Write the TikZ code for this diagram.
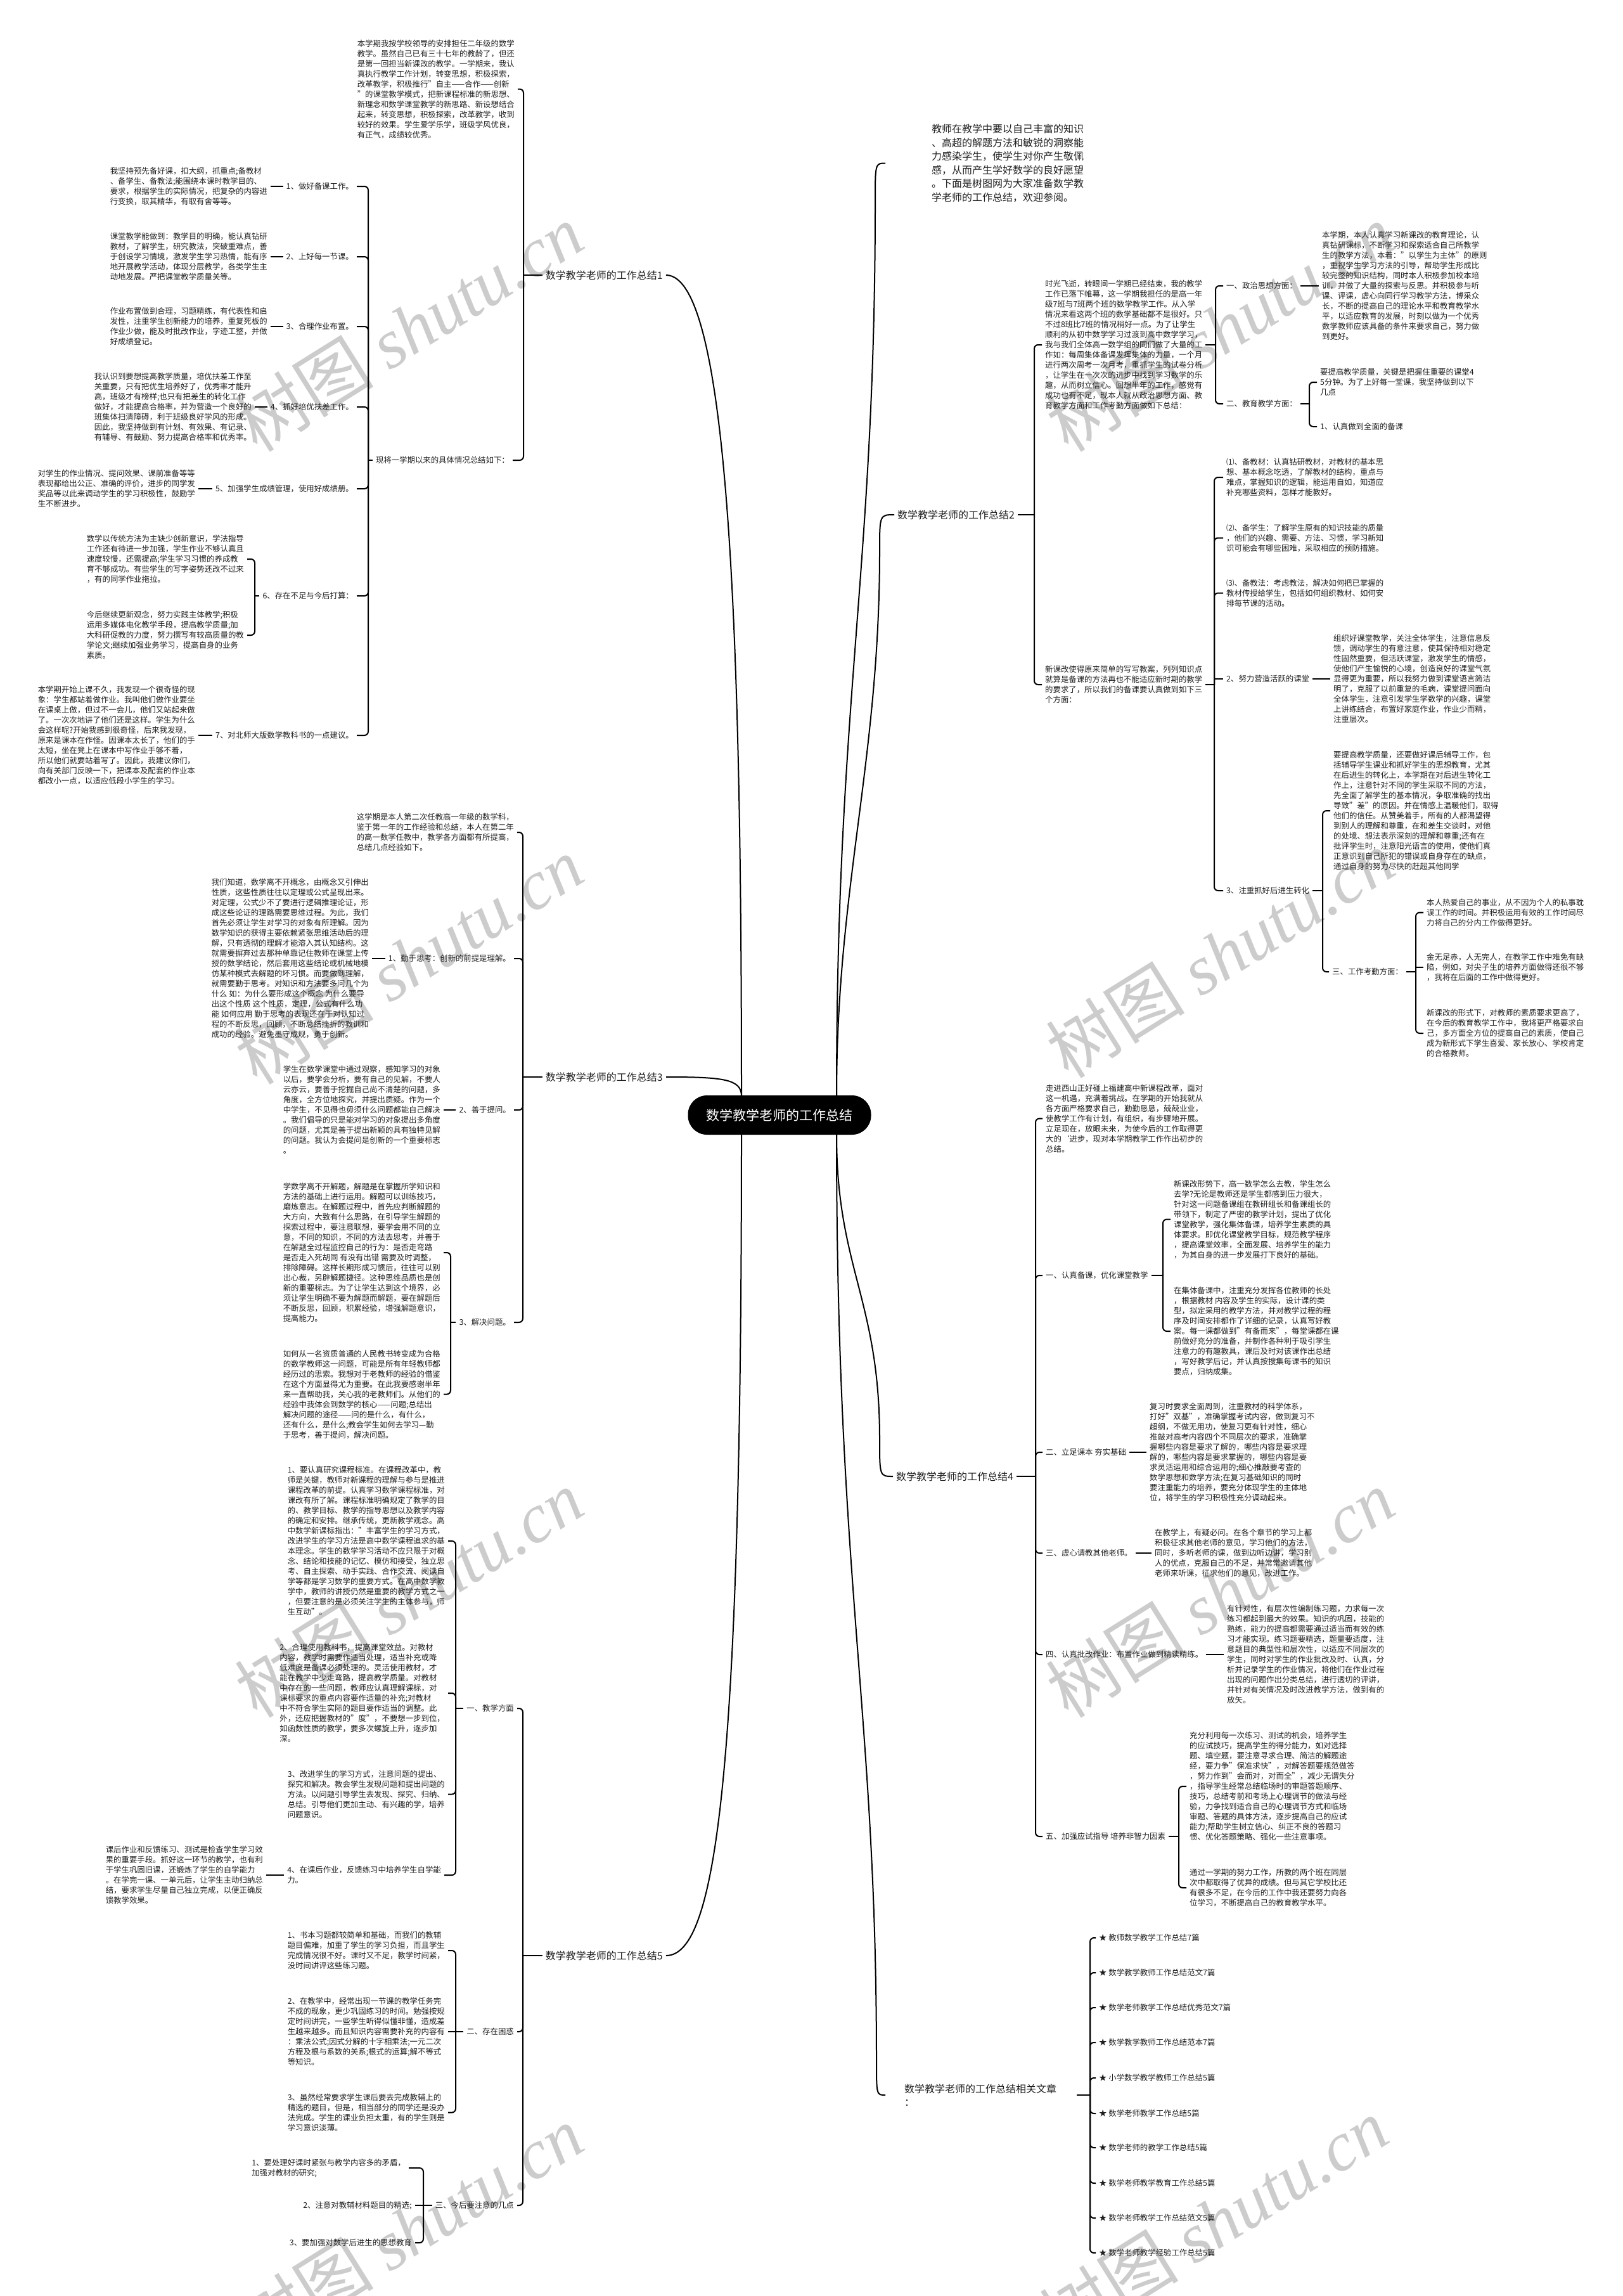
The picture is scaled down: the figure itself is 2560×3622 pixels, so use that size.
\documentclass[tikz,border=0pt]{standalone}
\usepackage{fontspec}
\setmainfont{Noto Sans CJK SC}
\newfontfamily\wmlat{Liberation Serif}
\begin{document}
\begin{tikzpicture}[x=1pt,y=-1pt,
  nb/.style={inner sep=5pt, text=black!88},
  txt/.style={nb, align=left, font=\fontsize{12.4}{16}\selectfont},
  lvl/.style={nb, align=left, font=\fontsize{16}{21.5}\selectfont},
  rootbox/.style={fill=black, text=white, rounded corners=30pt, minimum width=289pt, minimum height=62pt, inner sep=0pt, font=\fontsize{21}{25}\selectfont},
  conn/.style={draw=black, line width=2pt, rounded corners=6pt},
  curv/.style={draw=black, line width=2pt},
  wm/.style={text=black!20, rotate=32, inner sep=0pt, font=\fontsize{110}{110}\selectfont}
]
\fill[white] (0,0) rectangle (2560,3622);
\useasboundingbox (0,0) rectangle (2560,3622);

% watermarks
\node[wm] (w1) at (645,517) {树图 {\wmlat\itshape shutu.cn}};
\node[wm] (w2) at (645,1515) {树图 {\wmlat\itshape shutu.cn}};
\node[wm] (w3) at (645,2514) {树图 {\wmlat\itshape shutu.cn}};
\node[wm] (w4) at (645,3517) {树图 {\wmlat\itshape shutu.cn}};
\node[wm] (w5) at (1925,517) {树图 {\wmlat\itshape shutu.cn}};
\node[wm] (w6) at (1925,1505) {树图 {\wmlat\itshape shutu.cn}};
\node[wm] (w7) at (1925,2514) {树图 {\wmlat\itshape shutu.cn}};
\node[wm] (w8) at (1915,3505) {树图 {\wmlat\itshape shutu.cn}};

% spine coordinates
\coordinate (sp1) at (826,0);
\coordinate (sp1b) at (581,0);
\coordinate (sp16) at (402,0);
\coordinate (sp3) at (825,0);
\coordinate (sp3d) at (711,0);
\coordinate (sp5) at (825,0);
\coordinate (sp5a) at (719,0);
\coordinate (sp5c) at (668,0);
\coordinate (sp2) at (1632,0);
\coordinate (sp2a) at (1918,0);
\coordinate (sp2a2) at (2066,0);
\coordinate (sp2b) at (1916,0);
\coordinate (sp2b5) at (2087,0);
\coordinate (sp2c) at (2234,0);
\coordinate (sp4) at (1634,0);
\coordinate (sp4b) at (1835,0);
\coordinate (sp4f) at (1860,0);
\coordinate (sprel) at (1720,0);

% root
\node[rootbox] (root) at (1230,1759) {数学教学老师的工作总结};
\coordinate (rtl) at (1170,1729);
\coordinate (rbl) at (1170,1790);
\coordinate (rtr) at (1320,1729);
\coordinate (rbr) at (1320,1790);

% ================= Section 1 =================
\node[lvl, anchor=east] (s1) at (1051,434) {数学教学老师的工作总结1};
\node[txt, anchor=east] (s1a) at (817,140.5) {本学期我按学校领导的安排担任二年级的数学\\
教学。虽然自己已有三十七年的教龄了，但还\\
是第一回担当新课改的教学。一学期来，我认\\
真执行教学工作计划，转变思想，积极探索，\\
改革教学，积极推行"自主——合作——创新\\
"的课堂教学模式，把新课程标准的新思想、\\
新理念和数学课堂教学的新思路、新设想结合\\
起来，转变思想，积极探索，改革教学，收到\\
较好的效果。学生爱学乐学，班级学风优良，\\
有正气，成绩较优秀。};
\node[txt, anchor=east] (s1b) at (809,726) {现将一学期以来的具体情况总结如下：};
\node[txt, anchor=east] (i1) at (563,294) {1、做好备课工作。};
\node[txt, anchor=east] (i2) at (563,405) {2、上好每一节课。};
\node[txt, anchor=east] (i3) at (563,515) {3、合理作业布置。};
\node[txt, anchor=east] (i4) at (563,642) {4、抓好培优扶差工作。};
\node[txt, anchor=east] (i5) at (563,771) {5、加强学生成绩管理，使用好成绩册。};
\node[txt, anchor=east] (i6) at (563,940) {6、存在不足与今后打算：};
\node[txt, anchor=east] (i7) at (563,1160) {7、对北师大版数学教科书的一点建议。};
\node[txt, anchor=east] (i1p) at (427,294) {我坚持预先备好课，扣大纲，抓重点;备教材\\
、备学生、备教法;能围绕本课时教学目的、\\
要求，根据学生的实际情况，把复杂的内容进\\
行变换，取其精华，有取有舍等等。};
\node[txt, anchor=east] (i2p) at (427,405) {课堂教学能做到：教学目的明确，能认真钻研\\
教材，了解学生，研究教法，突破重难点，善\\
于创设学习情境，激发学生学习热情，能有序\\
地开展教学活动，体现分层教学，各类学生主\\
动地发展。严把课堂教学质量关等。};
\node[txt, anchor=east] (i3p) at (427,515) {作业布置做到合理，习题精练，有代表性和启\\
发性，注重学生创新能力的培养，重复死板的\\
作业少做，能及时批改作业，字迹工整，并做\\
好成绩登记。};
\node[txt, anchor=east] (i4p) at (402,642) {我认识到要想提高教学质量，培优扶差工作至\\
关重要，只有把优生培养好了，优秀率才能升\\
高，班级才有榜样;也只有把差生的转化工作\\
做好，才能提高合格率，并为营造一个良好的\\
班集体扫清障碍，利于班级良好学风的形成。\\
因此，我坚持做到有计划、有效果、有记录、\\
有辅导、有鼓励、努力提高合格率和优秀率。};
\node[txt, anchor=east] (i5p) at (313,771) {对学生的作业情况、提问效果、课前准备等等\\
表现都给出公正、准确的评价，进步的同学发\\
奖品等以此来调动学生的学习积极性，鼓励学\\
生不断进步。};
\node[txt, anchor=east] (i6a) at (390,882) {数学以传统方法为主缺少创新意识，学法指导\\
工作还有待进一步加强，学生作业不够认真且\\
速度较慢，还需提高;学生学习习惯的养成教\\
育不够成功。有些学生的写字姿势还改不过来\\
，有的同学作业拖拉。};
\node[txt, anchor=east] (i6b) at (390,1002) {今后继续更新观念，努力实践主体教学;积极\\
运用多媒体电化教学手段，提高教学质量;加\\
大科研促教的力度，努力撰写有较高质量的教\\
学论文;继续加强业务学习，提高自身的业务\\
素质。};
\node[txt, anchor=east] (i7p) at (313,1160) {本学期开始上课不久，我发现一个很奇怪的现\\
象：学生都站着做作业。我叫他们做作业要坐\\
在课桌上做，但过不一会儿，他们又站起来做\\
了。一次次地讲了他们还是这样。学生为什么\\
会这样呢?开始我感到很奇怪，后来我发现，\\
原来是课本在作怪。因课本太长了，他们的手\\
太短，坐在凳上在课本中写作业手够不着，\\
所以他们就要站着写了。因此，我建议你们，\\
向有关部门反映一下，把课本及配套的作业本\\
都改小一点，以适应低段小学生的学习。};

% ================= Section 3 =================
\node[lvl, anchor=east] (s3) at (1051,1699) {数学教学老师的工作总结3};
\node[txt, anchor=east] (s3a) at (816,1313) {这学期是本人第二次任教高一年级的数学科，\\
鉴于第一年的工作经验和总结，本人在第二年\\
的高一数学任教中，教学各方面都有所提高，\\
总结几点经验如下。};
\node[txt, anchor=east] (s3b) at (811,1512) {1、勤于思考：创新的前提是理解。};
\node[txt, anchor=east] (s3c) at (811,1751) {2、善于提问。};
\node[txt, anchor=east] (s3d) at (811,2086) {3、解决问题。};
\node[txt, anchor=east] (s3bp) at (587,1512) {我们知道，数学离不开概念，由概念又引伸出\\
性质，这些性质往往以定理或公式呈现出来。\\
对定理，公式少不了要进行逻辑推理论证，形\\
成这些论证的理路需要思维过程。为此，我们\\
首先必须让学生对学习的对象有所理解。因为\\
数学知识的获得主要依赖紧张思维活动后的理\\
解，只有透彻的理解才能溶入其认知结构。这\\
就需要摒弃过去那种单靠记住教师在课堂上传\\
授的数学结论，然后套用这些结论或机械地模\\
仿某种模式去解题的坏习惯。而要做到理解，\\
就需要勤于思考。对知识和方法要多问几个为\\
什么 如：为什么要形成这个概念 为什么要导\\
出这个性质 这个性质，定理，公式有什么功\\
能 如何应用 勤于思考的表现还在于对认知过\\
程的不断反思，回顾，不断总结挫折的教训和\\
成功的经验。避免墨守成规，勇于创新。};
\node[txt, anchor=east] (s3cp) at (700,1751) {学生在数学课堂中通过观察，感知学习的对象\\
以后，要学会分析，要有自己的见解，不要人\\
云亦云，要善于挖掘自己尚不清楚的问题，多\\
角度，全方位地探究，并提出质疑。作为一个\\
中学生，不见得也毋须什么问题都能自己解决\\
。我们倡导的只是能对学习的对象提出多角度\\
的问题，尤其是善于提出新颖的具有独特见解\\
的问题。我认为会提问是创新的一个重要标志\\
。};
\node[txt, anchor=east] (s3d1) at (700,1976) {学数学离不开解题，解题是在掌握所学知识和\\
方法的基础上进行运用。解题可以训练技巧，\\
磨炼意志。在解题过程中，首先应判断解题的\\
大方向，大致有什么思路，在引导学生解题的\\
探索过程中，要注意联想，要学会用不同的立\\
意，不同的知识，不同的方法去思考，并善于\\
在解题全过程监控自己的行为：是否走弯路\\
是否走入死胡同 有没有出错 需要及时调整，\\
排除障碍。这样长期形成习惯后，往往可以别\\
出心裁，另辟解题捷径。这种思维品质也是创\\
新的重要标志。为了让学生达到这个境界，必\\
须让学生明确不要为解题而解题，要在解题后\\
不断反思，回顾，积累经验，增强解题意识，\\
提高能力。};
\node[txt, anchor=east] (s3d2) at (700,2199.5) {如何从一名资质普通的人民教书转变成为合格\\
的数学教师这一问题，可能是所有年轻教师都\\
经历过的思索。我想对于老教师的经验的借鉴\\
在这个方面显得尤为重要。在此我要感谢半年\\
来一直帮助我，关心我的老教师们。从他们的\\
经验中我体会到数学的核心——问题;总结出\\
解决问题的途径——问的是什么，有什么，\\
还有什么，是什么;教会学生如何去学习—勤\\
于思考，善于提问，解决问题。};

% ================= Section 5 =================
\node[lvl, anchor=east] (s5) at (1051,3085) {数学教学老师的工作总结5};
\node[txt, anchor=east] (s5a) at (816,2695) {一、教学方面};
\node[txt, anchor=east] (s5b) at (816,3205) {二、存在困惑};
\node[txt, anchor=east] (s5c) at (816,3479) {三、今后要注意的几点};
\node[txt, anchor=east] (s5a1) at (707,2431) {1、要认真研究课程标准。在课程改革中，教\\
师是关键，教师对新课程的理解与参与是推进\\
课程改革的前提。认真学习数学课程标准，对\\
课改有所了解。课程标准明确规定了教学的目\\
的、教学目标、教学的指导思想以及教学内容\\
的确定和安排。继承传统，更新教学观念。高\\
中数学新课标指出："丰富学生的学习方式，\\
改进学生的学习方法是高中数学课程追求的基\\
本理念。学生的数学学习活动不应只限于对概\\
念、结论和技能的记忆、模仿和接受，独立思\\
考、自主探索、动手实践、合作交流、阅读自\\
学等都是学习数学的重要方式。在高中数学教\\
学中，教师的讲授仍然是重要的教学方式之一\\
，但要注意的是必须关注学生的主体参与，师\\
生互动"。};
\node[txt, anchor=east] (s5a2) at (707,2671) {2、合理使用教科书，提高课堂效益。对教材\\
内容，教学时需要作适当处理，适当补充或降\\
低难度是备课必须处理的。灵活使用教材，才\\
能在教学中少走弯路，提高教学质量。对教材\\
中存在的一些问题，教师应认真理解课标，对\\
课标要求的重点内容要作适量的补充;对教材\\
中不符合学生实际的题目要作适当的调整。此\\
外，还应把握教材的"度"，不要想一步到位，\\
如函数性质的教学，要多次螺旋上升，逐步加\\
深。};
\node[txt, anchor=east] (s5a3) at (707,2830.5) {3、改进学生的学习方式，注意问题的提出、\\
探究和解决。教会学生发现问题和提出问题的\\
方法。以问题引导学生去发现、探究、归纳、\\
总结。引导他们更加主动、有兴趣的学，培养\\
问题意识。};
\node[txt, anchor=east] (s5a4) at (701,2958) {4、在课后作业，反馈练习中培养学生自学能\\
力。};
\node[txt, anchor=east] (s5a4p) at (420,2958) {课后作业和反馈练习、测试是检查学生学习效\\
果的重要手段。抓好这一环节的教学，也有利\\
于学生巩固旧课，还锻炼了学生的自学能力\\
。在学完一课、一单元后，让学生主动归纳总\\
结，要求学生尽量自己独立完成，以便正确反\\
馈教学效果。};
\node[txt, anchor=east] (s5b1) at (707,3077) {1、书本习题都较简单和基础，而我们的教辅\\
题目偏难，加重了学生的学习负担，而且学生\\
完成情况很不好。课时又不足，教学时间紧，\\
没时间讲评这些练习题。};
\node[txt, anchor=east] (s5b2) at (707,3205) {2、在教学中，经常出现一节课的教学任务完\\
不成的现象，更少巩固练习的时间。勉强按规\\
定时间讲完，一些学生听得似懂非懂，造成差\\
生越来越多。而且知识内容需要补充的内容有\\
：乘法公式;因式分解的十字相乘法;一元二次\\
方程及根与系数的关系;根式的运算;解不等式\\
等知识。};
\node[txt, anchor=east] (s5b3) at (707,3332.5) {3、虽然经常要求学生课后要去完成教辅上的\\
精选的题目，但是，相当部分的同学还是没办\\
法完成。学生的课业负担太重，有的学生则是\\
学习意识淡薄。};
\node[txt, anchor=east] (s5c1) at (645,3420) {1、要处理好课时紧张与教学内容多的矛盾，\\
加强对教材的研究;};
\node[txt, anchor=east] (s5c2) at (655,3479) {2、注意对教辅材料题目的精选;};
\node[txt, anchor=east] (s5c3) at (655,3538) {3、要加强对数学后进生的思想教育};

% ================= Section 2 =================
\node[lvl, anchor=west, inner xsep=73pt] (s2i) at (1397,257.5) {教师在教学中要以自己丰富的知识\\
、高超的解题方法和敏锐的洞察能\\
力感染学生，使学生对你产生敬佩\\
感，从而产生学好数学的良好愿望\\
。下面是树图网为大家准备数学教\\
学老师的工作总结，欢迎参阅。};
\node[lvl, anchor=west] (s2) at (1411,812) {数学教学老师的工作总结2};
\node[txt, anchor=west] (s2a) at (1644,544) {时光飞逝，转眼间一学期已经结束，我的教学\\
工作已落下帷幕，这一学期我担任的是高一年\\
级7班与7班两个班的数学教学工作。从入学\\
情况来看这两个班的数学基础都不是很好。只\\
不过8班比7班的情况稍好一点。为了让学生\\
顺利的从初中数学学习过渡到高中数学学习，\\
我与我们全体高一数学组的同们做了大量的工\\
作如：每周集体备课发挥集体的力量，一个月\\
进行两次周考一次月考，重抓学生的试卷分析\\
，让学生在一次次的进步中找到学习数学的乐\\
趣，从而树立信心。回想半年的工作，感觉有\\
成功也有不足，现本人就从政治思想方面、教\\
育教学方面和工作考勤方面做如下总结：};
\node[txt, anchor=west] (s2a1) at (1930,451) {一、政治思想方面：};
\node[txt, anchor=west] (s2a1p) at (2081,451) {本学期，本人认真学习新课改的教育理论，认\\
真钻研课标，不断学习和探索适合自己所教学\\
生的教学方法，本着："以学生为主体"的原则\\
，重视学生学习方法的引导，帮助学生形成比\\
较完整的知识结构，同时本人积极参加校本培\\
训，并做了大量的探索与反思。并积极参与听\\
课、评课，虚心向同行学习教学方法，博采众\\
长，不断的提高自己的理论水平和教育教学水\\
平，以适应教育的发展，时刻以做为一个优秀\\
数学教师应该具备的条件来要求自己，努力做\\
到更好。};
\node[txt, anchor=west] (s2a2) at (1930,637) {二、教育教学方面：};
\node[txt, anchor=west] (s2a2a) at (2078,603) {要提高教学质量，关键是把握住重要的课堂4\\
5分钟。为了上好每一堂课，我坚持做到以下\\
几点};
\node[txt, anchor=west] (s2a2b) at (2078,673) {1、认真做到全面的备课};
\node[txt, anchor=west] (s2b) at (1644,1080) {新课改使得原来简单的写写教案，列列知识点\\
就算是备课的方法再也不能适应新时期的教学\\
的要求了，所以我们的备课要认真做到如下三\\
个方面：};
\node[txt, anchor=west] (s2b1) at (1930,753) {⑴、备教材：认真钻研教材，对教材的基本思\\
想、基本概念吃透，了解教材的结构，重点与\\
难点，掌握知识的逻辑，能运用自如，知道应\\
补充哪些资料，怎样才能教好。};
\node[txt, anchor=west] (s2b2) at (1930,848.5) {⑵、备学生：了解学生原有的知识技能的质量\\
，他们的兴趣、需要、方法、习惯，学习新知\\
识可能会有哪些困难，采取相应的预防措施。};
\node[txt, anchor=west] (s2b3) at (1930,935.5) {⑶、备教法：考虑教法，解决如何把已掌握的\\
教材传授给学生，包括如何组织教材、如何安\\
排每节课的活动。};
\node[txt, anchor=west] (s2b4) at (1930,1071) {2、努力营造活跃的课堂};
\node[txt, anchor=west] (s2b4p) at (2099,1071) {组织好课堂教学，关注全体学生，注意信息反\\
馈，调动学生的有意注意，使其保持相对稳定\\
性固然重要，但活跃课堂，激发学生的情感，\\
使他们产生愉悦的心境，创造良好的课堂气氛\\
显得更为重要，所以我努力做到课堂语言简洁\\
明了，克服了以前重复的毛病，课堂提问面向\\
全体学生，注意引发学生学数学的兴趣，课堂\\
上讲练结合，布置好家庭作业，作业少而精，\\
注重层次。};
\node[txt, anchor=west] (s2b5) at (1930,1405) {3、注重抓好后进生转化};
\node[txt, anchor=west] (s2b5a) at (2099,1279) {要提高教学质量，还要做好课后辅导工作，包\\
括辅导学生课业和抓好学生的思想教育，尤其\\
在后进生的转化上，本学期在对后进生转化工\\
作上，注意针对不同的学生采取不同的方法，\\
先全面了解学生的基本情况，争取准确的找出\\
导致"差"的原因。并在情感上温暖他们，取得\\
他们的信任。从赞美着手，所有的人都渴望得\\
到别人的理解和尊重，在和差生交谈时，对他\\
的处境、想法表示深刻的理解和尊重;还有在\\
批评学生时，注意阳光语言的使用，使他们真\\
正意识到自己所犯的错误或自身存在的缺点，\\
通过自身的努力尽快的赶超其他同学};
\node[txt, anchor=west] (s2b5b) at (2097,1533) {三、工作考勤方面：};
\node[txt, anchor=west] (c1) at (2246,1439.5) {本人热爱自己的事业，从不因为个人的私事耽\\
误工作的时间。并积极运用有效的工作时间尽\\
力将自己的分内工作做得更好。};
\node[txt, anchor=west] (c2) at (2246,1526) {金无足赤，人无完人，在教学工作中难免有缺\\
陷，例如，对尖子生的培养方面做得还很不够\\
，我将在后面的工作中做得更好。};
\node[txt, anchor=west] (c3) at (2246,1630) {新课改的形式下，对教师的素质要求更高了，\\
在今后的教育教学工作中，我将更严格要求自\\
己，多方面全方位的提高自己的素质，使自己\\
成为新形式下学生喜爱、家长放心、学校肯定\\
的合格教师。};

% ================= Section 4 =================
\node[lvl, anchor=west] (s4) at (1409,2329) {数学教学老师的工作总结4};
\node[txt, anchor=west] (s4a) at (1645,1764.5) {走进西山正好碰上福建高中新课程改革，面对\\
这一机遇，充满着挑战。在学期的开始我就从\\
各方面严格要求自己，勤勤恳恳，兢兢业业，\\
使教学工作有计划，有组织，有步骤地开展。\\
立足现在，放眼未来，为使今后的工作取得更\\
大的`进步，现对本学期教学工作作出初步的\\
总结。};
\node[txt, anchor=west] (s4b) at (1645,2012) {一、认真备课，优化课堂教学};
\node[txt, anchor=west] (s4c) at (1645,2291) {二、立足课本 夯实基础};
\node[txt, anchor=west] (s4d) at (1645,2450) {三、虚心请教其他老师。};
\node[txt, anchor=west] (s4e) at (1645,2610) {四、认真批改作业：布置作业做到精读精练。};
\node[txt, anchor=west] (s4f) at (1645,2897) {五、加强应试指导 培养非智力因素};
\node[txt, anchor=west] (s4b1) at (1847,1923.5) {新课改形势下，高一数学怎么去教，学生怎么\\
去学?无论是教师还是学生都感到压力很大，\\
针对这一问题备课组在教研组长和备课组长的\\
带领下，制定了严密的教学计划，提出了优化\\
课堂教学，强化集体备课，培养学生素质的具\\
体要求。即优化课堂教学目标，规范教学程序\\
，提高课堂效率，全面发展、培养学生的能力\\
，为其自身的进一步发展打下良好的基础。};
\node[txt, anchor=west] (s4b2) at (1847,2100) {在集体备课中，注重充分发挥各位教师的长处\\
，根据教材 内容及学生的实际，设计课的类\\
型，拟定采用的教学方法，并对教学过程的程\\
序及时间安排都作了详细的记录，认真写好教\\
案。每一课都做到"有备而来"，每堂课都在课\\
前做好充分的准备，并制作各种利于吸引学生\\
注意力的有趣教具，课后及时对该课作出总结\\
，写好教学后记，并认真按搜集每课书的知识\\
要点，归纳成集。};
\node[txt, anchor=west] (s4cp) at (1809,2291) {复习时要求全面周到，注重教材的科学体系，\\
打好"双基"，准确掌握考试内容，做到复习不\\
超纲，不做无用功，使复习更有针对性，细心\\
推敲对高考内容四个不同层次的要求，准确掌\\
握哪些内容是要求了解的，哪些内容是要求理\\
解的，哪些内容是要求掌握的，哪些内容是要\\
求灵活运用和综合运用的;细心推敲要考查的\\
数学思想和数学方法;在复习基础知识的同时\\
要注重能力的培养，要充分体现学生的主体地\\
位，将学生的学习积极性充分调动起来。};
\node[txt, anchor=west] (s4dp) at (1817,2450) {在教学上，有疑必问。在各个章节的学习上都\\
积极征求其他老师的意见，学习他们的方法，\\
同时，多听老师的课，做到边听边讲，学习别\\
人的优点，克服自己的不足，并常常邀请其他\\
老师来听课，征求他们的意见，改进工作。};
\node[txt, anchor=west] (s4ep) at (1931,2610) {有针对性，有层次性编制练习题，力求每一次\\
练习都起到最大的效果。知识的巩固，技能的\\
熟练，能力的提高都需要通过适当而有效的练\\
习才能实现。练习题要精选，题量要适度，注\\
意题目的典型性和层次性，以适应不同层次的\\
学生，同时对学生的作业批改及时、认真，分\\
析并记录学生的作业情况，将他们在作业过程\\
出现的问题作出分类总结，进行透切的评讲，\\
并针对有关情况及时改进教学方法，做到有的\\
放矢。};
\node[txt, anchor=west] (s4f1) at (1872,2818) {充分利用每一次练习、测试的机会，培养学生\\
的应试技巧，提高学生的得分能力，如对选择\\
题、填空题，要注意寻求合理、简洁的解题途\\
经，要力争"保准求快"，对解答题要规范做答\\
，努力作到"会而对，对而全"，减少无谓失分\\
，指导学生经常总结临场时的审题答题顺序、\\
技巧，总结考前和考场上心理调节的做法与经\\
验，力争找到适合自己的心理调节方式和临场\\
审题、答题的具体方法，逐步提高自己的应试\\
能力;帮助学生树立信心、纠正不良的答题习\\
惯、优化答题策略、强化一些注意事项。};
\node[txt, anchor=west] (s4f2) at (1872,2978) {通过一学期的努力工作，所教的两个班在同层\\
次中都取得了优异的成绩。但与其它学校比还\\
有很多不足，在今后的工作中我还要努力向各\\
位学习，不断提高自己的教育教学水平。};

% ================= Related =================
\node[lvl, anchor=west, inner xsep=30pt, text width=242pt] (rel) at (1397,3305) {数学教学老师的工作总结相关文章\\：};
\node[txt, anchor=west] (r1) at (1729,3057) {★ 教师数学教学工作总结7篇};
\node[txt, anchor=west] (r2) at (1729,3112) {★ 数学教学教师工作总结范文7篇};
\node[txt, anchor=west] (r3) at (1729,3167) {★ 数学老师教学工作总结优秀范文7篇};
\node[txt, anchor=west] (r4) at (1729,3222) {★ 数学教学教师工作总结范本7篇};
\node[txt, anchor=west] (r5) at (1729,3278) {★ 小学数学教学教师工作总结5篇};
\node[txt, anchor=west] (r6) at (1729,3334) {★ 数学老师教学工作总结5篇};
\node[txt, anchor=west] (r7) at (1729,3388) {★ 数学老师的教学工作总结5篇};
\node[txt, anchor=west] (r8) at (1729,3444) {★ 数学老师教学教育工作总结5篇};
\node[txt, anchor=west] (r9) at (1729,3499) {★ 数学老师教学工作总结范文5篇};
\node[txt, anchor=west] (r10) at (1729,3554) {★ 数学老师教学经验工作总结5篇};

% ================= Connectors =================
% root to level 1
\draw[curv] (s1.east) .. controls (1150,434) and (1170,1000) .. (rtl);
\draw[curv] (s3.east) .. controls (1140,1699) and (1170,1702) .. (rtl);
\draw[curv] (s5.east) .. controls (1130,3085) and (1170,2800) .. (rbl);
\draw[curv] (rtr) .. controls (1320,1100) and (1381,900) .. (1381,320) .. controls (1381,257.5) .. (s2i.west);
\draw[curv] (rtr) .. controls (1320,1400) and (1388,1200) .. (1388,870) .. controls (1388,812) .. (s2.west);
\draw[curv] (rbr) .. controls (1320,2000) and (1388,2050) .. (1388,2270) .. controls (1388,2329) .. (s4.west);
\draw[curv] (rbr) .. controls (1320,2500) and (1383,2700) .. (1383,3250) .. controls (1383,3305) .. (rel.west);

% section 1
\draw[conn] (s1.west) -- (s1.west -| sp1);
\foreach \c in {s1a,s1b} \draw[conn] (s1.west -| sp1) |- (\c.east);
\draw[conn] (s1b.west) -- (s1b.west -| sp1b);
\foreach \c in {i1,i2,i3,i4,i5,i6,i7} \draw[conn] (s1b.west -| sp1b) |- (\c.east);
\foreach \c in {i1,i2,i3,i4,i5,i7} \draw[conn] (\c.west) -- (\c.west -| \c p.east);
\draw[conn] (i6.west) -- (i6.west -| sp16);
\foreach \c in {i6a,i6b} \draw[conn] (i6.west -| sp16) |- (\c.east);

% section 3
\draw[conn] (s3.west) -- (s3.west -| sp3);
\foreach \c in {s3a,s3b,s3c,s3d} \draw[conn] (s3.west -| sp3) |- (\c.east);
\draw[conn] (s3b.west) -- (s3b.west -| s3bp.east);
\draw[conn] (s3c.west) -- (s3c.west -| s3cp.east);
\draw[conn] (s3d.west) -- (s3d.west -| sp3d);
\foreach \c in {s3d1,s3d2} \draw[conn] (s3d.west -| sp3d) |- (\c.east);

% section 5
\draw[conn] (s5.west) -- (s5.west -| sp5);
\foreach \c in {s5a,s5b,s5c} \draw[conn] (s5.west -| sp5) |- (\c.east);
\draw[conn] (s5a.west) -- (s5a.west -| sp5a);
\foreach \c in {s5a1,s5a2,s5a3,s5a4} \draw[conn] (s5a.west -| sp5a) |- (\c.east);
\draw[conn] (s5a4.west) -- (s5a4.west -| s5a4p.east);
\draw[conn] (s5b.west) -- (s5b.west -| sp5a);
\foreach \c in {s5b1,s5b3} \draw[conn] (s5b.west -| sp5a) |- (\c.east);
\draw[conn] (s5b2.east -| sp5a) -- (s5b2.east);
\draw[conn] (s5c.west) -- (s5c.west -| sp5c);
\foreach \c in {s5c1,s5c3} \draw[conn] (s5c.west -| sp5c) |- (\c.east);
\draw[conn] (s5c2.east -| sp5c) -- (s5c2.east);

% section 2
\draw[conn] (s2.east) -- (s2.east -| sp2);
\foreach \c in {s2a,s2b} \draw[conn] (s2.east -| sp2) |- (\c.west);
\draw[conn] (s2a.east) -- (s2a.east -| sp2a);
\foreach \c in {s2a1,s2a2} \draw[conn] (s2a.east -| sp2a) |- (\c.west);
\draw[conn] (s2a1.east) -- (s2a1.east -| s2a1p.west);
\draw[conn] (s2a2.east) -- (s2a2.east -| sp2a2);
\foreach \c in {s2a2a,s2a2b} \draw[conn] (s2a2.east -| sp2a2) |- (\c.west);
\draw[conn] (s2b.east) -- (s2b.east -| sp2b);
\foreach \c in {s2b1,s2b2,s2b3,s2b5} \draw[conn] (s2b.east -| sp2b) |- (\c.west);
\draw[conn] (s2b4.west -| sp2b) -- (s2b4.west);
\draw[conn] (s2b4.east) -- (s2b4.east -| s2b4p.west);
\draw[conn] (s2b5.east) -- (s2b5.east -| sp2b5);
\foreach \c in {s2b5a,s2b5b} \draw[conn] (s2b5.east -| sp2b5) |- (\c.west);
\draw[conn] (s2b5b.east) -- (s2b5b.east -| sp2c);
\foreach \c in {c1,c3} \draw[conn] (s2b5b.east -| sp2c) |- (\c.west);
\draw[conn] (c2.west -| sp2c) -- (c2.west);

% section 4
\draw[conn] (s4.east) -- (s4.east -| sp4);
\foreach \c in {s4a,s4b,s4c,s4d,s4e,s4f} \draw[conn] (s4.east -| sp4) |- (\c.west);
\draw[conn] (s4b.east) -- (s4b.east -| sp4b);
\foreach \c in {s4b1,s4b2} \draw[conn] (s4b.east -| sp4b) |- (\c.west);
\draw[conn] (s4c.east) -- (s4c.east -| s4cp.west);
\draw[conn] (s4d.east) -- (s4d.east -| s4dp.west);
\draw[conn] (s4e.east) -- (s4e.east -| s4ep.west);
\draw[conn] (s4f.east) -- (s4f.east -| sp4f);
\foreach \c in {s4f1,s4f2} \draw[conn] (s4f.east -| sp4f) |- (\c.west);

% related
\draw[conn] (rel.east) -- (rel.east -| sprel);
\foreach \i in {1,...,10} \draw[conn] (rel.east -| sprel) |- (r\i.west);
\end{tikzpicture}
\end{document}
